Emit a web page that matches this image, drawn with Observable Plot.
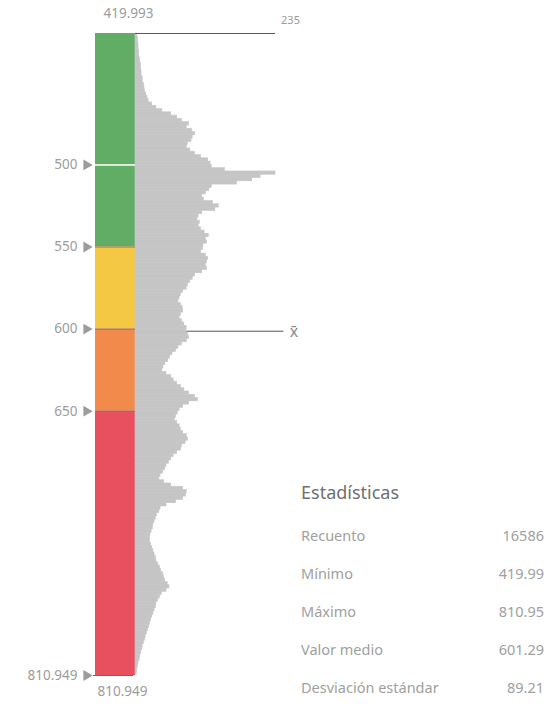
<!DOCTYPE html>
<html><head><meta charset="utf-8">
<script src="https://cdn.jsdelivr.net/npm/d3@7"></script>
<script src="https://cdn.jsdelivr.net/npm/@observablehq/plot@0.6"></script>
<style>
body{margin:0;background:#fff;font-family:"Noto Sans",sans-serif;}
#wrap{position:relative;width:551px;height:707px;overflow:hidden;}
#chart{position:absolute;left:0;top:0;}
#stats{position:absolute;left:0;top:0;width:551px;height:707px;pointer-events:none;}
.st{position:absolute;white-space:nowrap;line-height:1;}
.title{left:301px;font-size:18px;color:#6f6f6f;}
.lab{left:301px;font-size:14.5px;color:#a0a0a0;}
.val{right:7px;font-size:14.5px;color:#a0a0a0;}
</style></head><body>
<div id="wrap"><div id="chart"></div><div id="stats"></div></div>
<script>
// ---- data ----
const vMin = 419.993, vMax = 810.949;
const maxCount = 235;
const meanValue = 601.29;
const bandEdges = [419.993, 500, 550, 600, 650, 810.949];
const bandColors = ["#62ad66", "#62ad66", "#f5c843", "#f18a4b", "#e9505f"];
const tickValues = [500, 550, 600, 650];
const binStart = 420, binWidth = 2;
const counts = [
  3,4,4,5,5,6,6,7,8,9,
  9,10,10,12,12,14,15,16,18,20,
  22,28,35,45,60, 70,78,90,86,95, 100,96,94,88,86, 92,100,110,122,126,
  128,150,235,210,196, 170,128,124,118,112, 115,130,140,134,112, 106,104,108,106,110,
  116,123,118,120,114, 113,110,118,122,120, 118,120,112,100,96, 92,88,86,80,76,
  74,72,76,79,80, 76,74,78,82,86, 85,88,90,86,78, 72,68,62,58,55,
  50,47,45,52,60, 64,70,76,82,90, 100,105,90,80,74, 71,68,66,70,74,
  76,80,86,88,84, 78,76,70,64,60, 56,52,50,46,42, 40,48,60,80,86,
  85,80,68,52,42, 40,36,34,32,30, 29,27,25,24,24, 26,28,30,32,34,
  35,38,41,43,46, 48,50,54,57,52, 44,41,38,35,34, 32,30,28,26,24,
  23,21,19,17,16, 14,12,11,9,8, 7,5,4,3,2
];
const statTitle = "Estadísticas";
const statLabels = ["Recuento", "Mínimo", "Máximo", "Valor medio", "Desviación estándar"];
const statValues = ["16586", "419.99", "810.95", "601.29", "89.21"];

// ---- tables ----
const bins = counts.map((c, i) => ({lo: binStart + i * binWidth, hi: binStart + (i + 1) * binWidth, count: c}));
const bands = bandColors.map((c, i) => ({lo: bandEdges[i], hi: bandEdges[i + 1], color: c}));
const edgeLabels = [...tickValues, vMax];

const gray = "#9c9c9c";
const histGray = "#c5c5c5";
const chart = Plot.plot({
  width: 551, height: 707,
  marginTop: 0, marginRight: 0, marginBottom: 0, marginLeft: 0,
  x: {domain: [0, maxCount], range: [135, 275], axis: null},
  y: {domain: [vMin, vMax], range: [33, 675], axis: null},
  style: {fontFamily: "Noto Sans, sans-serif", background: "transparent"},
  marks: [
    Plot.rect(bands, {y1: "lo", y2: "hi", fill: "color", insetLeft: 95, insetRight: 416}),
    Plot.ruleY([meanValue], {x1: 0, x2: maxCount * 1.06, stroke: "#555", strokeWidth: 1}),
    Plot.rectX(bins, {y1: "lo", y2: "hi", x: "count", fill: histGray, stroke: histGray, strokeWidth: 0.6, inset: 0}),
    Plot.ruleY([500], {stroke: "#ffffff", strokeWidth: 1.5, insetLeft: 95, insetRight: 416}),
    Plot.ruleY([550, 600, 650], {stroke: "#8a7565", strokeWidth: 1, insetLeft: 95, insetRight: 416}),
    Plot.ruleY([vMax], {stroke: "#6a6a6a", strokeWidth: 1, insetLeft: 93, insetRight: 418}),
    Plot.ruleY([vMin], {x1: 0, x2: maxCount, stroke: "#5a5a5a", strokeWidth: 1}),
    Plot.text([maxCount], {x: d => d, y: vMin, dx: 15, dy: -13, text: d => String(d), fontSize: 11, fill: gray}),
    Plot.text([vMin], {x: 0, y: d => d, dx: -7, dy: -20, text: d => d.toFixed(3), fontSize: 13.5, fill: gray}),
    Plot.text([vMax], {x: 0, y: d => d, dx: -13, dy: 16, text: d => d.toFixed(3), fontSize: 13.5, fill: gray}),
    Plot.text(edgeLabels, {x: 0, y: d => d, dx: -58, textAnchor: "end", text: d => d === vMax ? d.toFixed(3) : String(d), fontSize: 13.5, fill: gray}),
    Plot.dot(edgeLabels, {x: 0, y: d => d, dx: -49, symbol: "triangle", rotate: 90, r: 4, fill: gray, stroke: "none"}),
    Plot.text([meanValue], {x: maxCount * 1.06, y: d => d, dx: 10, dy: 1, text: () => "x\u0304", fontSize: 16, fill: "#8a8a8a"})
  ]
});
document.getElementById("chart").appendChild(chart);

// ---- statistics panel ----
const stats = document.getElementById("stats");
const t = document.createElement("div");
t.className = "st title"; t.textContent = statTitle; t.style.top = (493 - 10) + "px";
stats.appendChild(t);
statLabels.forEach((lab, i) => {
  const y = 536 + i * 38 - 8;
  const a = document.createElement("div");
  a.className = "st lab"; a.textContent = lab; a.style.top = y + "px";
  const b = document.createElement("div");
  b.className = "st val"; b.textContent = statValues[i]; b.style.top = y + "px";
  stats.appendChild(a); stats.appendChild(b);
});
</script>
</body></html>
